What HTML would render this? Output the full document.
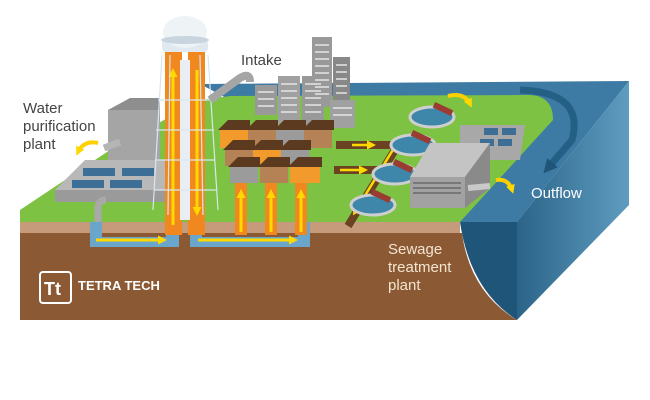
<!DOCTYPE html>
<html><head><meta charset="utf-8"><style>
html,body{margin:0;padding:0;background:#fff;}
svg{display:block;}
text{font-family:"Liberation Sans",sans-serif;}
</style></head><body>
<svg width="650" height="400" viewBox="0 0 650 400" xmlns="http://www.w3.org/2000/svg">
<defs>
<marker id="ay" markerWidth="9" markerHeight="9" refX="5" refY="4.5" orient="auto" markerUnits="userSpaceOnUse"><path d="M0,0 L9,4.5 L0,9 Z" fill="#ffd800"/></marker>
<marker id="ab" markerWidth="14" markerHeight="14" refX="7" refY="7" orient="auto" markerUnits="userSpaceOnUse"><path d="M0,0 L14,7 L0,14 Z" fill="#1f5578"/></marker>
<linearGradient id="rf" x1="0" x2="1"><stop offset="0" stop-color="#2c6489"/><stop offset="1" stop-color="#5e9cc0"/></linearGradient>
</defs>
<!-- water block -->
<polygon points="200,84 629,81 517,222 460,222" fill="#3d7aa4"/>
<polygon points="517,222 629,81 629,205 517,320" fill="url(#rf)"/>
<path d="M460,222 L517,222 L517,320 Q470,290 460,222 Z" fill="#1f5578"/>
<!-- ground front -->
<rect x="20" y="222" width="440" height="12" fill="#c69b7b"/>
<path d="M20,233 L462,233 Q470,292 517,320 L20,320 Z" fill="#8b5a35"/>
<!-- green top -->
<path d="M20,210 L110,150 L200,100 L230,96 L530,95 Q553,96 553,120 L460,222 L20,222 Z" fill="#7dc242"/>
<!-- river channel arc -->
<path d="M520,90 Q585,92 572,140 L548,168" fill="none" stroke="#245f86" stroke-width="7" marker-end="url(#ab)"/>
<!-- purification plant -->
<polygon points="108,110 130,98 160,98 160,160 108,160" fill="#8e8e8e"/>
<rect x="108" y="110" width="52" height="52" fill="#a5a5a5"/>
<polygon points="55,190 85,160 175,160 170,190" fill="#b8b8b8"/>
<rect x="55" y="190" width="115" height="12" fill="#9a9a9a"/>
<rect x="83" y="168" width="32" height="8" fill="#3d6f96"/><rect x="122" y="168" width="32" height="8" fill="#3d6f96"/>
<rect x="72" y="180" width="32" height="8" fill="#3d6f96"/><rect x="110" y="180" width="32" height="8" fill="#3d6f96"/>
<path d="M98,222 L98,208 Q98,200 106,200" fill="none" stroke="#a9a9a9" stroke-width="7"/>
<path d="M104,148 L120,142" stroke="#b5b5b5" stroke-width="7"/>
<path d="M98,143 Q84,140 78,152" fill="none" stroke="#ffd000" stroke-width="4" marker-end="url(#ay)"/>
<!-- underground channels -->
<path d="M90,222 V247 H179 V222 H166 V237 H102 V222 Z" fill="#6aa6cc"/>
<path d="M190,222 V247 H310 V222 H298 V237 H202 V222 Z" fill="#6aa6cc"/>
<line x1="96" y1="240" x2="163" y2="240" stroke="#ffd800" stroke-width="3" marker-end="url(#ay)"/>
<line x1="198" y1="240" x2="294" y2="240" stroke="#ffd800" stroke-width="3" marker-end="url(#ay)"/>
<!-- water tower -->
<rect x="165" y="50" width="17" height="185" fill="#f0871f"/>
<rect x="188" y="50" width="17" height="185" fill="#f0871f"/>
<rect x="180" y="60" width="10" height="160" fill="#e8eef3"/>
<line x1="173" y1="225" x2="173" y2="72" stroke="#ffd800" stroke-width="3" marker-end="url(#ay)"/>
<line x1="197" y1="70" x2="197" y2="212" stroke="#ffd800" stroke-width="3" marker-end="url(#ay)"/>
<g stroke="#d9e6ef" stroke-width="1.2" fill="none">
<line x1="162" y1="55" x2="153" y2="210"/><line x1="208" y1="55" x2="218" y2="210"/>
<line x1="170" y1="55" x2="168" y2="215"/><line x1="200" y1="55" x2="203" y2="215"/>
<path d="M158,100 H212 M156,130 H214 M155,160 H215 M154,190 H216"/></g>
<rect x="162" y="40" width="46" height="12" rx="4" fill="#dfe9ef"/>
<ellipse cx="185" cy="32" rx="22" ry="16" fill="#eef3f6"/>
<ellipse cx="185" cy="40" rx="24" ry="4" fill="#c8d5de"/>
<!-- intake pipe -->
<path d="M210,100 L240,78 Q250,72 250,82" fill="none" stroke="#a5a5a5" stroke-width="8"/>
<!-- city -->
<rect x="312" y="37" width="20" height="70" fill="#999"/><rect x="333" y="57" width="17" height="55" fill="#888"/>
<rect x="255" y="85" width="22" height="30" fill="#999"/><rect x="278" y="76" width="22" height="48" fill="#a0a0a0"/>
<rect x="302" y="76" width="22" height="50" fill="#999"/><rect x="330" y="100" width="25" height="28" fill="#a0a0a0"/>
<g stroke="#e5e5e5" stroke-width="1.5">
<path d="M315,45h14M315,52h14M315,59h14M315,66h14M315,73h14M315,80h14M315,87h14M315,94h14"/>
<path d="M336,65h11M336,72h11M336,79h11M336,86h11M336,93h11"/>
<path d="M258,92h16M258,99h16M258,106h16M281,84h16M281,91h16M281,98h16M281,105h16M281,112h16M305,84h16M305,91h16M305,98h16M305,105h16M305,112h16M333,108h19M333,115h19"/></g>
<!-- sewer channels -->
<path d="M336,145 H398 L348,226 M334,170 H382" fill="none" stroke="#6b4323" stroke-width="8" stroke-linejoin="round"/>
<path d="M352,145 H372" stroke="#ffd800" stroke-width="2.5" marker-end="url(#ay)"/>
<path d="M340,170 H364" stroke="#ffd800" stroke-width="2.5" marker-end="url(#ay)"/>
<path d="M394,148 L355,212" stroke="#ffd800" stroke-width="2.5" marker-end="url(#ay)"/>
<!-- houses -->
<g>
<rect x="220" y="128" width="28" height="20" fill="#f39a2d"/><rect x="248" y="128" width="28" height="20" fill="#b48255"/><rect x="276" y="128" width="28" height="20" fill="#9b9b9b"/><rect x="304" y="128" width="28" height="20" fill="#b48255"/>
<rect x="225" y="148" width="28" height="18" fill="#b48255"/><rect x="253" y="148" width="28" height="18" fill="#f39a2d"/><rect x="281" y="148" width="28" height="18" fill="#9b9b9b"/>
<rect x="230" y="164" width="28" height="19" fill="#9b9b9b"/><rect x="260" y="164" width="28" height="19" fill="#b48255"/><rect x="290" y="164" width="30" height="19" fill="#f39a2d"/>
<g fill="#5b3a20"><polygon points="218,130 228,120 250,120 250,130"/><polygon points="246,130 256,120 278,120 278,130"/><polygon points="274,130 284,120 306,120 306,130"/><polygon points="302,130 312,120 334,120 334,130"/>
<polygon points="223,150 233,140 255,140 255,150"/><polygon points="251,150 261,140 283,140 283,150"/><polygon points="279,150 289,140 311,140 311,150"/>
<polygon points="228,167 238,157 260,157 260,167"/><polygon points="258,167 268,157 290,157 290,167"/><polygon points="288,167 298,157 322,157 322,167"/></g></g>
<!-- orange house pipes -->
<rect x="235" y="183" width="12" height="52" fill="#f0871f"/><rect x="265" y="183" width="12" height="52" fill="#f0871f"/><rect x="295" y="183" width="12" height="52" fill="#f0871f"/>
<g stroke="#ffd800" stroke-width="3"><line x1="241" y1="232" x2="241" y2="193" marker-end="url(#ay)"/><line x1="271" y1="232" x2="271" y2="193" marker-end="url(#ay)"/><line x1="301" y1="232" x2="301" y2="193" marker-end="url(#ay)"/></g>
<!-- clarifiers -->
<g fill="#3e86aa" stroke="#cfcfcf" stroke-width="3">
<ellipse cx="432" cy="117" rx="22" ry="10"/><ellipse cx="413" cy="145" rx="22" ry="10"/><ellipse cx="395" cy="174" rx="22" ry="10"/><ellipse cx="373" cy="205" rx="22" ry="10"/></g>
<g fill="#9b3c32"><rect x="433" y="106" width="20" height="6" transform="rotate(25 443 109)"/><rect x="411" y="134" width="20" height="6" transform="rotate(25 421 137)"/><rect x="393" y="163" width="20" height="6" transform="rotate(25 403 166)"/><rect x="371" y="193" width="20" height="6" transform="rotate(25 381 196)"/></g>
<!-- sewage plant -->
<polygon points="460,125 525,125 520,160 460,160" fill="#a8a8a8"/>
<g fill="#3d6f96"><rect x="484" y="128" width="14" height="7"/><rect x="502" y="128" width="14" height="7"/><rect x="480" y="139" width="14" height="7"/><rect x="498" y="139" width="14" height="7"/></g>
<polygon points="410,177 430,143 490,143 465,177" fill="#c4c4c4"/>
<rect x="410" y="177" width="55" height="31" fill="#a2a2a2"/>
<polygon points="465,177 490,143 490,188 465,208" fill="#8a8a8a"/>
<g stroke="#777" stroke-width="2"><path d="M413,183h48M413,188h48M413,193h48"/></g>
<path d="M468,188 L490,186" stroke="#c9c9c9" stroke-width="6"/>
<path d="M448,96 Q464,92 470,104" fill="none" stroke="#ffd000" stroke-width="4" marker-end="url(#ay)"/>
<path d="M496,180 Q508,178 512,190" fill="none" stroke="#ffd000" stroke-width="4" marker-end="url(#ay)"/>
<!-- labels -->
<g fill="#444" font-size="15"><text x="23" y="113">Water</text><text x="23" y="131">purification</text><text x="23" y="149">plant</text><text x="241" y="65">Intake</text></g>
<g fill="#f3e4d0" font-size="15"><text x="388" y="254">Sewage</text><text x="388" y="272">treatment</text><text x="388" y="290">plant</text></g>
<text x="531" y="198" fill="#fff" font-size="15">Outflow</text>
<rect x="40" y="272" width="31" height="31" rx="3" fill="none" stroke="#fff" stroke-width="2"/>
<text x="44" y="295" fill="#fff" font-size="18" font-weight="bold">Tt</text>
<text x="78" y="290" fill="#fff" font-size="13" font-weight="bold">TETRA TECH</text>
</svg>
</body></html>
